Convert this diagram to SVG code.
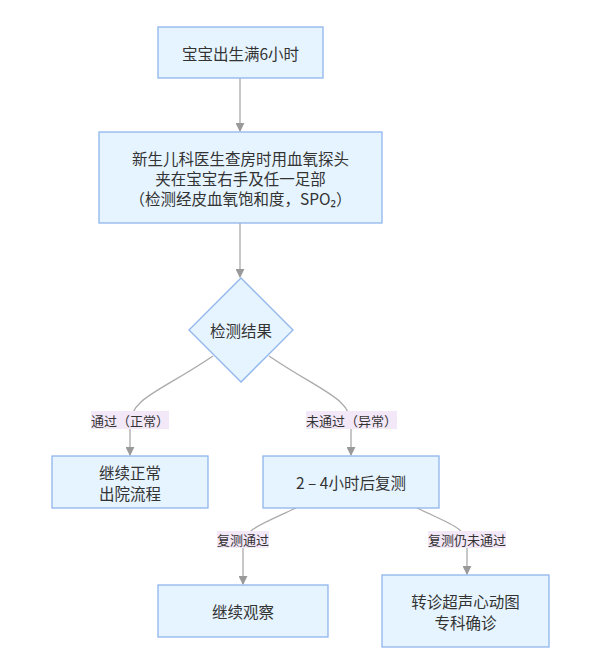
<svg xmlns="http://www.w3.org/2000/svg" width="600" height="671" viewBox="0 0 600 671">
<style>
.node rect,.node polygon{fill:#e6f4ff;stroke:#8fb5ec;stroke-width:1.3}
.node text{font-family:"Noto Sans CJK SC","Noto Sans",sans-serif;font-size:15.5px;fill:#333;text-anchor:middle;dominant-baseline:central}
.edge{fill:none;stroke:#aaaaaa;stroke-width:1.3}
.lbl rect{fill:#f3e8f8;stroke:none}
.lbl text{font-family:"Noto Sans CJK SC","Noto Sans",sans-serif;font-size:13px;fill:#333;text-anchor:middle;dominant-baseline:central}
</style>
<defs>
<marker id="arr" viewBox="0 0 10 10" refX="9" refY="5" markerWidth="9" markerHeight="9" markerUnits="userSpaceOnUse" orient="auto">
<path d="M0,0 L10,5 L0,10 z" fill="#999"/>
</marker>
</defs>
<rect width="600" height="671" fill="#fff"/>
<g id="connectors">
<path class="edge" d="M240,78 L240,131" marker-end="url(#arr)"/>
<path class="edge" d="M240,223 L240,277" marker-end="url(#arr)"/>
<path class="edge" d="M213,356 C160,392 130,398 130,425 L130,455" marker-end="url(#arr)"/>
<path class="edge" d="M269,356 C322,392 351,398 351,425 L351,455" marker-end="url(#arr)"/>
<path class="edge" d="M296,508 C262,524 243,530 243,545 L243,584" marker-end="url(#arr)"/>
<path class="edge" d="M417,508 C450,524 467,528 467,545 L467,574" marker-end="url(#arr)"/>
</g>
<g id="labels">
<g class="lbl"><rect x="91" y="411" width="78" height="18"/><text x="130" y="420">通过（正常）</text></g>
<g class="lbl"><rect x="306" y="411" width="91" height="18"/><text x="351.5" y="420">未通过（异常）</text></g>
<g class="lbl"><rect x="217" y="531" width="52" height="17"/><text x="243" y="539.5">复测通过</text></g>
<g class="lbl"><rect x="428" y="531" width="78" height="17"/><text x="467" y="539.5">复测仍未通过</text></g>
</g>
<g id="n1" class="node"><rect x="158" y="27" width="165" height="51"/><text x="240.5" y="52.5">宝宝出生满6小时</text></g>
<g id="n2" class="node"><rect x="99" y="132" width="283" height="91"/>
<text x="240.5" y="158">新生儿科医生查房时用血氧探头</text>
<text x="240.5" y="178">夹在宝宝右手及任一足部</text>
<text x="240.5" y="198">（检测经皮血氧饱和度，SPO₂）</text></g>
<g id="n3" class="node"><polygon points="241,278 293,330 241,382 189,330"/><text x="241" y="330">检测结果</text></g>
<g id="n4" class="node"><rect x="52" y="456" width="156" height="52"/><text x="130" y="472">继续正常</text><text x="130" y="493">出院流程</text></g>
<g id="n5" class="node"><rect x="263" y="456" width="176" height="52"/><text x="351" y="482">2 – 4小时后复测</text></g>
<g id="n6" class="node"><rect x="158" y="585" width="170" height="52"/><text x="243" y="611">继续观察</text></g>
<g id="n7" class="node"><rect x="382" y="575" width="167" height="72"/><text x="465.5" y="601">转诊超声心动图</text><text x="465.5" y="622">专科确诊</text></g>
</svg>
